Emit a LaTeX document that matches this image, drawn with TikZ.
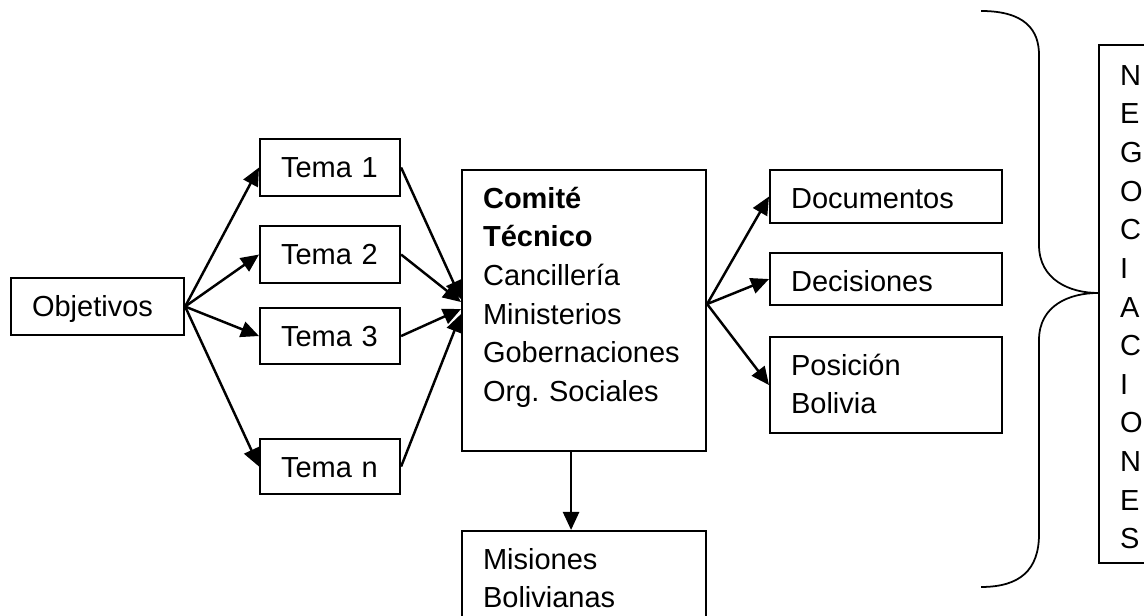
\documentclass[tikz,border=0pt]{standalone}
\usepackage{fontspec}
\setmainfont{Liberation Sans}
\usepackage{tikz}
\usetikzlibrary{arrows.meta}
\frenchspacing

\tikzset{
  caja/.style={draw, line width=0.6pt, anchor=north west, align=left, inner xsep=0.21cm, inner ysep=0pt, text height=0.38cm, font=\fontsize{8.25}{11}\selectfont},
  tema/.style={caja, text width=0.98cm, text depth=0.19cm},
  flecha/.style={-{Triangle[length=0.18cm,width=0.16cm]}, line width=0.7pt}
}

\begin{document}
\begin{tikzpicture}
  \useasboundingbox (0,0) rectangle (11.44,6.16);
  \node[caja, text width=1.31cm, text depth=0.19cm] (obj) at (0.10,3.39) {Objetivos};
  \node[tema] (tema1) at (2.59,4.78) {Tema~1};
  \node[tema] (tema2) at (2.59,3.91) {Tema~2};
  \node[tema, text depth=0.18cm] (tema3) at (2.59,3.09) {Tema~3};
  \node[tema, text depth=0.17cm] (teman) at (2.59,1.78) {Tema~n};
  \node[caja, text width=2.02cm, text depth=2.43cm] (comite) at (4.61,4.47) {\textbf{Comité}\\\textbf{Técnico}\\Cancillería\\Ministerios\\Gobernaciones\\Org. Sociales};
  \node[caja, text width=1.90cm, text depth=0.15cm] (doc) at (7.69,4.47) {Documentos};
  \node[caja, text width=1.90cm, text depth=0.14cm] (dec) at (7.69,3.64) {Decisiones};
  \node[caja, text width=1.90cm, text depth=0.58cm] (pos) at (7.69,2.80) {Posición\\Bolivia};
  \node[caja, text width=2.02cm, text depth=0.62cm] (mis) at (4.61,0.86) {Misiones\\Bolivianas};
  \node[caja, text width=0.70cm, text height=0.40cm, text depth=4.78cm] (neg) at (10.98,5.72) {N\\E\\G\\O\\C\\I\\A\\C\\I\\O\\N\\E\\S};
  \foreach \t in {tema1,tema2,tema3,teman}{\draw[flecha] (obj.east) -- (\t.west);}
  \foreach \t/\d in {tema1/0.115, tema2/0.085, tema3/0.015, teman/-0.035}{\draw[flecha] (\t.east) -- ([yshift=\d cm]comite.west);}
  \coordinate (sal) at ([yshift=0.065cm]comite.east);
  \foreach \t in {doc,dec,pos}{\draw[flecha] (sal) -- (\t.west);}
  \draw[flecha] ([xshift=-0.13cm]comite.south) -- ([xshift=-0.13cm]mis.north);
  \draw[line width=0.5pt] (9.81,6.05) .. controls (10.25,6.05) and (10.39,5.86) .. (10.39,5.61)
    -- (10.39,3.71) .. controls (10.39,3.36) and (10.70,3.23) .. (10.98,3.23)
    .. controls (10.70,3.23) and (10.39,3.11) .. (10.39,2.76)
    -- (10.39,0.82) .. controls (10.39,0.46) and (10.20,0.29) .. (9.81,0.29);
\end{tikzpicture}
\end{document}
